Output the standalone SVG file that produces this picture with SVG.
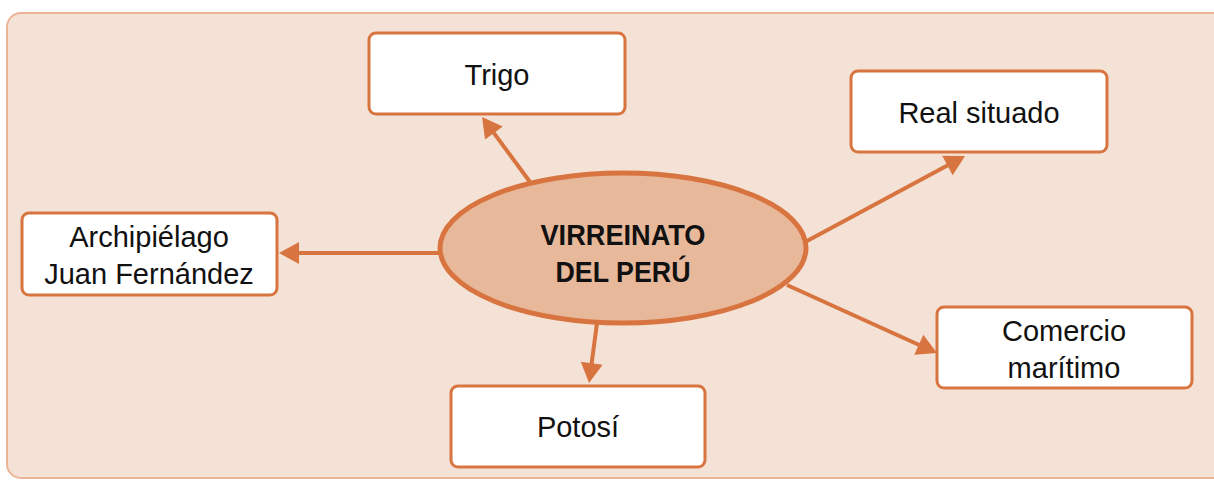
<svg xmlns="http://www.w3.org/2000/svg" width="1214" height="480" viewBox="0 0 1214 480">
<style>
.box{fill:#ffffff;stroke:#d8743f;stroke-width:3}
.t{font-family:"Liberation Sans",Arial,sans-serif;font-size:29px;fill:#111;text-anchor:middle}
.b{font-family:"Liberation Sans",Arial,sans-serif;font-size:29px;font-weight:bold;fill:#111;text-anchor:middle}
.c{stroke:#d8743f;stroke-width:4;fill:none;marker-end:url(#ah)}
</style>
<defs>
<marker id="ah" markerUnits="userSpaceOnUse" markerWidth="22" markerHeight="24" refX="12" refY="11" orient="auto" overflow="visible">
<path d="M0,0 L20,11 L0,22 z" fill="#d8743f"/>
</marker>
</defs>
<rect x="0" y="0" width="1214" height="480" fill="#ffffff"/>
<rect x="7" y="13" width="1240" height="465" rx="14" fill="#f5e2d6" stroke="#ebb496" stroke-width="2"/>
<g id="connectors">
<line class="c" x1="530" y1="182" x2="486.8" y2="123.4"/>
<line class="c" x1="440" y1="253" x2="287" y2="253"/>
<line class="c" x1="807" y1="241" x2="958" y2="159.8"/>
<line class="c" x1="597" y1="323" x2="590.1" y2="375.1"/>
<line class="c" x1="787" y1="285" x2="929.7" y2="349.7"/>
</g>
<g id="center">
<ellipse cx="623" cy="248" rx="183" ry="75" fill="#e8b89a" stroke="#d8743f" stroke-width="5"/>
<text class="b" x="623" y="245" textLength="165" lengthAdjust="spacingAndGlyphs">VIRREINATO</text>
<text class="b" x="623" y="282" textLength="135" lengthAdjust="spacingAndGlyphs">DEL PERÚ</text>
</g>
<g id="trigo">
<rect class="box" x="369" y="33" width="256" height="81" rx="7"/>
<text class="t" x="497" y="85">Trigo</text>
</g>
<g id="real-situado">
<rect class="box" x="851" y="71" width="256" height="81" rx="7"/>
<text class="t" x="979" y="123">Real situado</text>
</g>
<g id="archipielago">
<rect class="box" x="22" y="213" width="255" height="82" rx="7"/>
<text class="t" x="149" y="247">Archipiélago</text>
<text class="t" x="149" y="284">Juan Fernández</text>
</g>
<g id="potosi">
<rect class="box" x="451" y="386" width="254" height="81" rx="7"/>
<text class="t" x="578" y="437">Potosí</text>
</g>
<g id="comercio">
<rect class="box" x="937" y="307" width="255" height="81" rx="7"/>
<text class="t" x="1064" y="341">Comercio</text>
<text class="t" x="1064" y="378">marítimo</text>
</g>
</svg>
